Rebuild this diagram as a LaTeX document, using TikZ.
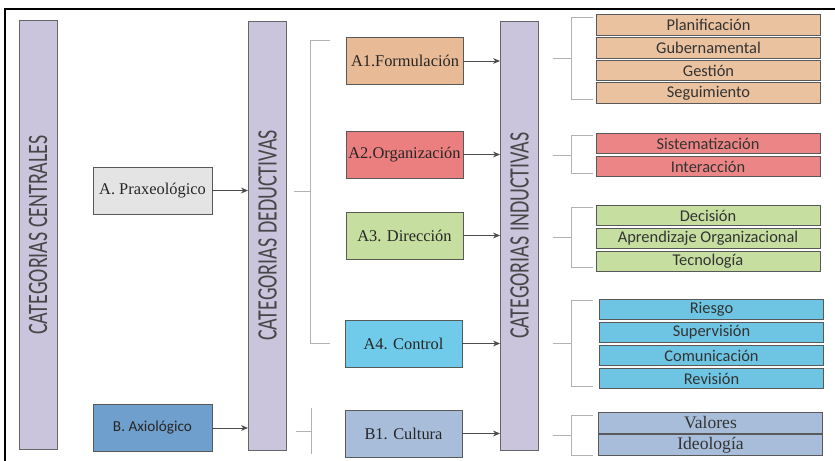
\documentclass[tikz,border=0pt]{standalone}
\usepackage{fontspec}
\setmainfont{Liberation Serif}
\newfontfamily\calibri{Carlito}
\usetikzlibrary{arrows.meta,positioning}
\definecolor{barcol}{HTML}{CAC4DC}
\definecolor{praxcol}{HTML}{E4E4E4}
\definecolor{axiocol}{HTML}{6F9FCC}
\definecolor{formcol}{HTML}{E8BB96}
\definecolor{orgcol}{HTML}{EB7F7F}
\definecolor{dircol}{HTML}{C6DEA0}
\definecolor{ctrlcol}{HTML}{70CBEA}
\definecolor{cultcol}{HTML}{A8BDDA}
\tikzset{
  catbar/.style={draw=black!60, fill=barcol, line width=0.8pt, minimum width=1.14cm, minimum height=12.87cm, inner sep=0pt},
  bartxt/.style={rotate=90, text=black!72, font=\calibri\fontsize{24}{29}\selectfont},
  catbox/.style={draw=black!65, line width=0.8pt, minimum width=3.51cm, minimum height=1.41cm, inner sep=0pt, text=black!85, font=\fontsize{14}{16}\selectfont},
  item/.style={draw=black!65, line width=0.7pt, minimum width=6.72cm, minimum height=0.615cm, inner sep=0pt, text=black!80, font=\calibri\fontsize{14}{16}\selectfont},
  conn/.style={-{Stealth[length=6pt,width=5pt]}, draw=black!70, line width=0.7pt},
  brace/.style={draw=black!30, line width=0.6pt},
}

\begin{document}
\begin{tikzpicture}[x=0.03cm, y=-0.03cm]
  \useasboundingbox (0,0) rectangle (835,461);
  \draw[line width=1.6pt] (5,461) -- (5,9) -- (835,9);

  % Category bars
  \node[catbar] (cen) at (38,235) {};
  \node[bartxt] at (cen) {\scalebox{0.71}[1]{CATEGORIAS CENTRALES}};
  \node[catbar] (ded) at (267.5,235.5) {};
  \node[bartxt] at (ded) {\scalebox{0.71}[1]{CATEGORIAS DEDUCTIVAS}};
  \node[catbar] (ind) at (519.5,235.5) {};
  \node[bartxt] at (ind) {\scalebox{0.71}[1]{CATEGORIAS INDUCTIVAS}};

  % Central categories
  \node[catbox, fill=praxcol, minimum width=3.57cm] (prax) at (152.5,190.5) {A. Praxeológico};
  \node[catbox, fill=axiocol, minimum width=3.57cm, font=\calibri\fontsize{13}{15}\selectfont] (axio) at (152.5,428) {B. Axiológico};
  \draw[conn] (prax.east) -- (prax.east -| ded.west);
  \draw[conn] (axio.east) -- (axio.east -| ded.west);

  % Deductive categories
  \node[catbox, fill=formcol] (form) at (405,61) {A1.Formulación};
  \node[catbox, fill=orgcol] (org) at (404.5,154.5) {A2.Organización};
  \node[catbox, fill=dircol] (dir) at (404.5,235.5) {A3. Dirección};
  \node[catbox, fill=ctrlcol] (ctrl) at (403.5,343.5) {A4. Control};
  \node[catbox, fill=cultcol] (cult) at (403.5,433.5) {B1. Cultura};
  \foreach \n in {form,org,dir,ctrl,cult}
    \draw[conn] (\n.east) -- (\n.east -| ind.west);

  % Braces
  \draw[brace] (330,40) -- (310,40) -- (310,343) -- (330,343);
  \draw[brace] (294,191) -- (310,191);
  \draw[brace] (311,408) -- (311,454);
  \draw[brace] (296,431) -- (311,431);
  \foreach \top/\mid/\bot in {17/58/99, 135/155/173, 207/237/267, 300/343/386, 415/435/455} {
    \draw[brace] (593,\top) -- (571,\top) -- (571,\bot) -- (593,\bot);
    \draw[brace] (553,\mid) -- (571,\mid);
  }

  % Inductive categories
  \foreach \txt [count=\i] in {Planificación, Gubernamental, Gestión, Seguimiento}
    \node[item, fill=formcol!90!white] (f\i) at (708.5, {25+22.7*(\i-1)}) {\txt};
  \foreach \txt [count=\i] in {Sistematización, Interacción}
    \node[item, fill=orgcol!95!white] (o\i) at (708, {143.5+23*(\i-1)}) {\txt};
  \foreach \txt [count=\i] in {Decisión, Aprendizaje Organizacional, Tecnología}
    \node[item, fill=dircol] (d\i) at (708, {215.5+23*(\i-1)}) {\txt};
  \foreach \txt [count=\i] in {Riesgo, Supervisión, Comunicación, Revisión}
    \node[item, fill=ctrlcol!97!black] (c\i) at (711.5, {309.5+23*(\i-1)}) {\txt};
  \foreach \txt [count=\i] in {Valores, Ideología}
    \node[item, fill=cultcol, font=\fontsize{15}{17}\selectfont] (v\i) at (710.5, {423+22*(\i-1)}) {\txt};
\end{tikzpicture}
\end{document}
